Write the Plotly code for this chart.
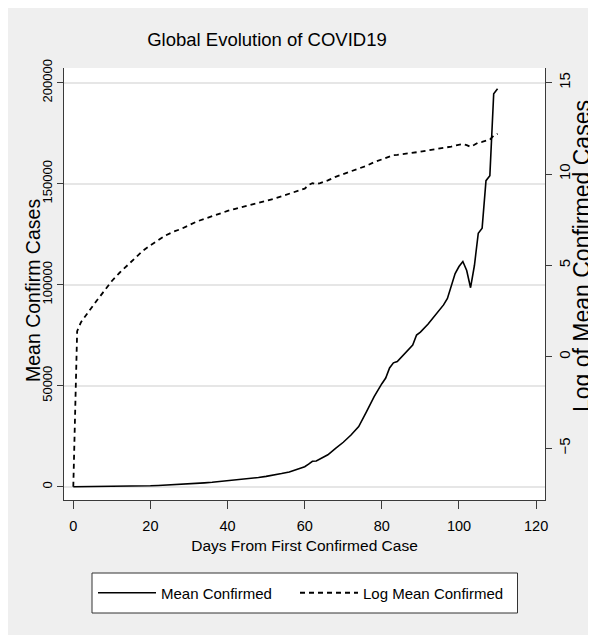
import plotly.graph_objects as go

# ---- data ----
days = [0, 1, 2, 3, 4, 6, 8, 10, 12, 14, 16, 18, 20, 22, 24, 26, 28, 30, 32, 34,
        36, 38, 40, 42, 44, 46, 48, 50, 52, 54, 56, 58, 60, 61, 62, 63, 64, 66, 68, 70,
        72, 74, 76, 78, 80, 81, 82, 83, 84, 86, 88, 89, 90, 92, 94, 96, 97, 98, 99, 100,
        101, 102, 103, 104, 105, 106, 107, 108, 109, 110]

mean_confirmed = [0, 4, 7, 9, 12, 21, 37, 63, 100, 150, 220, 330, 450, 600, 770, 950, 1100, 1340, 1640, 1900,
                  2200, 2560, 2900, 3300, 3650, 4000, 4530, 5100, 5700, 6500, 7300, 8500, 9900, 11200, 12600, 12700, 13600, 15800, 19000, 22000,
                  25600, 29800, 37000, 44600, 51000, 53800, 58800, 61300, 62000, 66000, 70100, 75100, 76500, 80500, 85500, 90000, 93200, 99000, 105500, 109000,
                  111500, 107000, 98500, 109500, 125500, 128000, 151500, 154000, 194500, 197000]

log_mean_confirmed = [-7.1, 1.4, 1.9, 2.2, 2.5, 3.05, 3.6, 4.15, 4.6, 5.0, 5.4, 5.8, 6.1, 6.4, 6.65, 6.85, 7.0, 7.2, 7.4, 7.55,
                      7.7, 7.85, 7.98, 8.1, 8.2, 8.3, 8.42, 8.54, 8.65, 8.78, 8.9, 9.05, 9.2, 9.4, 9.5, 9.45, 9.5, 9.65, 9.85, 10.0,
                      10.15, 10.3, 10.45, 10.65, 10.8, 10.88, 10.98, 11.03, 11.05, 11.1, 11.15, 11.2, 11.22, 11.3, 11.36, 11.42, 11.45, 11.5, 11.56, 11.6,
                      11.64, 11.58, 11.49, 11.6, 11.72, 11.76, 11.8, 11.88, 12.1, 12.2]

x_ticks = [0, 20, 40, 60, 80, 100, 120]
left_ticks = [0, 50000, 100000, 150000, 200000]
right_ticks = [-5, 0, 5, 10, 15]

title_text = "Global Evolution of COVID19"
x_title = "Days From First Confirmed Case"
left_title = "Mean Confirm Cases"
right_title = "Log of Mean Confirmed Cases"

# ---- layout geometry (page has an 8px body margin) ----
OFF = 8
W, H = 596 - OFF, 635 - OFF
L, R, T, B = 64 - OFF, 51, 68 - OFF, 135
pw, ph = W - L - R, H - T - B

def px_x(p):
    """screen pixel x -> paper fraction"""
    return (p - OFF - L) / pw

def px_y(p):
    """screen pixel y -> paper fraction"""
    return (H - B - (p - OFF)) / ph

FONT = "Liberation Sans, Arial, sans-serif"
AX = "#3a3a3a"
BG = "#efefef"

fig = go.Figure()
fig.add_trace(go.Scatter(x=days, y=mean_confirmed, mode="lines", name="Mean Confirmed",
                         line=dict(color="black", width=1.6), yaxis="y", legend="legend",
                         showlegend=True))
fig.add_trace(go.Scatter(x=days, y=log_mean_confirmed, mode="lines", name="Log Mean Confirmed",
                         line=dict(color="black", width=1.8, dash="5px,4px"), yaxis="y2", legend="legend2",
                         showlegend=True))

leg_common = dict(orientation="h", yanchor="middle", xanchor="left",
                  bgcolor="rgba(0,0,0,0)", borderwidth=0,
                  font=dict(family=FONT, size=15, color="black"), itemwidth=58)

fig.update_layout(
    width=W, height=H,
    margin=dict(l=L, r=R, t=T, b=B, autoexpand=False),
    paper_bgcolor=BG,
    plot_bgcolor="white",
    showlegend=True,
    title=dict(text=title_text, x=px_x(267), xref="paper", xanchor="center",
               y=1 - (40 - OFF) / H, yref="container", yanchor="middle",
               font=dict(family=FONT, size=18.5, color="black")),
    xaxis=dict(range=[-2.41, 122.3], tickvals=x_ticks, showgrid=False, zeroline=False,
               showline=True, linecolor=AX, linewidth=1, ticks="outside", ticklen=8,
               tickcolor=AX, ticklabelstandoff=5, tickfont=dict(family=FONT, size=14.5, color="black"),
               title=dict(text=x_title, font=dict(family=FONT, size=15.5, color="black"), standoff=6)),
    yaxis=dict(range=[-6584, 207277], tickvals=left_ticks, tickformat="d", tickangle=-90,
               showgrid=True, gridcolor="#e6e6e6", gridwidth=1.5, zeroline=False,
               showline=True, linecolor=AX, linewidth=1, ticks="outside", ticklen=6,
               tickcolor=AX, tickfont=dict(family=FONT, size=13, color="black")),
    yaxis2=dict(range=[-7.83, 15.80], tickvals=right_ticks, tickangle=-90, overlaying="y", side="right",
                showgrid=False, zeroline=False, showline=True, linecolor=AX, linewidth=1,
                ticks="outside", ticklen=6, tickcolor=AX,
                tickfont=dict(family=FONT, size=15, color="black")),
    legend=dict(x=px_x(93), y=px_y(593), **leg_common),
    legend2=dict(x=px_x(295), y=px_y(593), **leg_common),
    annotations=[
        dict(text=left_title, textangle=-90, xref="paper", yref="paper",
             x=px_x(33), y=px_y(291), xanchor="center", yanchor="middle", showarrow=False,
             font=dict(family=FONT, size=19.5, color="black")),
        dict(text=right_title, textangle=-90, xref="paper", yref="paper",
             x=px_x(582), y=px_y(256), xanchor="center", yanchor="middle", showarrow=False,
             font=dict(family=FONT, size=23, color="black")),
    ],
    shapes=[
        dict(type="rect", xref="paper", yref="paper", x0=px_x(92), x1=px_x(517.5), y0=px_y(613), y1=px_y(573),
             fillcolor="white", line=dict(width=1, color="#333333"), layer="above"),
    ],
)

fig.write_html("out.html")
